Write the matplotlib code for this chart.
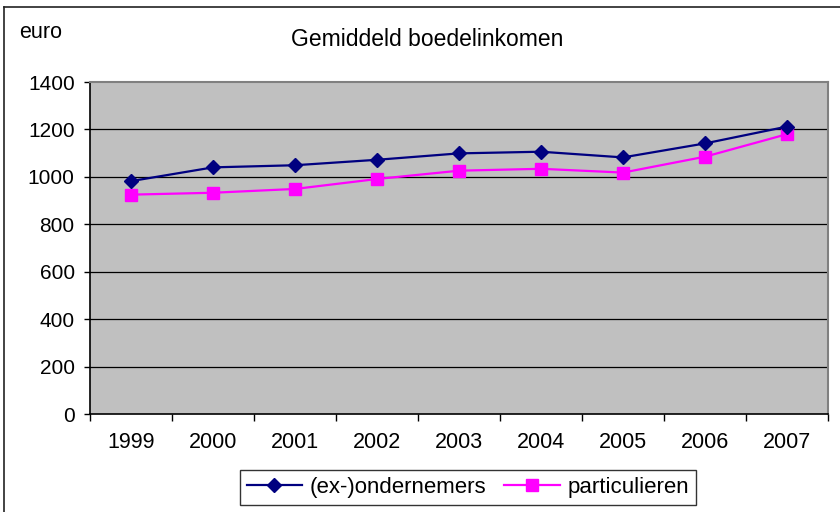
import matplotlib
matplotlib.use("Agg")
import matplotlib.pyplot as plt
from matplotlib.lines import Line2D

plt.rcParams['font.family'] = ['Liberation Sans', 'DejaVu Sans']

# Data
years = ['1999', '2000', '2001', '2002', '2003', '2004', '2005', '2006', '2007']
ondernemers = [982, 1040, 1049, 1072, 1099, 1106, 1082, 1141, 1212]
particulieren = [925, 933, 949, 991, 1026, 1034, 1018, 1085, 1180]
y_ticks = [0, 200, 400, 600, 800, 1000, 1200, 1400]

W, H = 840, 512
fig = plt.figure(figsize=(W / 100, H / 100), dpi=100, facecolor='white')

# Plot area in pixel coords of the reference
left, right, top, bottom = 90, 828, 82, 414
ax = fig.add_axes([left / W, 1 - bottom / H, (right - left) / W, (bottom - top) / H])
ax.set_facecolor('#C0C0C0')

x = list(range(len(years)))
l1, = ax.plot(x, ondernemers, color='#000080', lw=1.6, marker='D', markersize=7.5,
              markerfacecolor='#000080', markeredgecolor='#000080', label='(ex-)ondernemers', zorder=4)
l2, = ax.plot(x, particulieren, color='#FF00FF', lw=1.6, marker='s', markersize=8,
              markerfacecolor='#FF00FF', markeredgecolor='#FF00FF', label='particulieren', zorder=3)

ax.set_xlim(-0.5, len(years) - 0.5)
ax.set_ylim(0, 1400)

# Horizontal gridlines
for v in y_ticks[1:-1]:
    ax.axhline(v, color='black', lw=0.9, zorder=1)

ax.set_yticks(y_ticks)
ax.tick_params(axis='y', direction='out', length=4, width=1, pad=7, labelsize=15, colors='black')

# category labels centered, ticks between categories
ax.set_xticks(x)
ax.set_xticklabels(years)
ax.set_xticks([i - 0.5 for i in range(len(years) + 1)], minor=True)
ax.tick_params(axis='x', which='major', length=0, pad=13, labelsize=15.5)
ax.tick_params(axis='x', which='minor', direction='out', length=5, width=1)

for s in ['left', 'bottom']:
    ax.spines[s].set_color('black')
    ax.spines[s].set_linewidth(1.2)
for s in ['top', 'right']:
    ax.spines[s].set_color('#808080')
    ax.spines[s].set_linewidth(1.5)

# Titles
fig.text(427 / W, 1 - 40 / H, 'Gemiddeld boedelinkomen', ha='center', va='center', fontsize=16.5)
fig.text(19 / W, 1 - 32 / H, 'euro', ha='left', va='center', fontsize=15.5)

# Legend
leg = fig.legend(handles=[l1, l2], loc='center', bbox_to_anchor=(468 / W, 1 - 487.5 / H),
                 ncol=2, fontsize=16, frameon=True, fancybox=False, edgecolor='black',
                 borderpad=0.3, handlelength=2.5, columnspacing=0.8, handletextpad=0.35)
leg.get_frame().set_linewidth(1.0)

# Chart area border (left and top visible)
fig.add_artist(Line2D([4 / W, 4 / W], [0, 1 - 7 / H], transform=fig.transFigure, color='#222222', lw=1.2))
fig.add_artist(Line2D([4 / W, 1], [1 - 7 / H, 1 - 7 / H], transform=fig.transFigure, color='#222222', lw=1.2))

fig.savefig('out.png', dpi=100)
